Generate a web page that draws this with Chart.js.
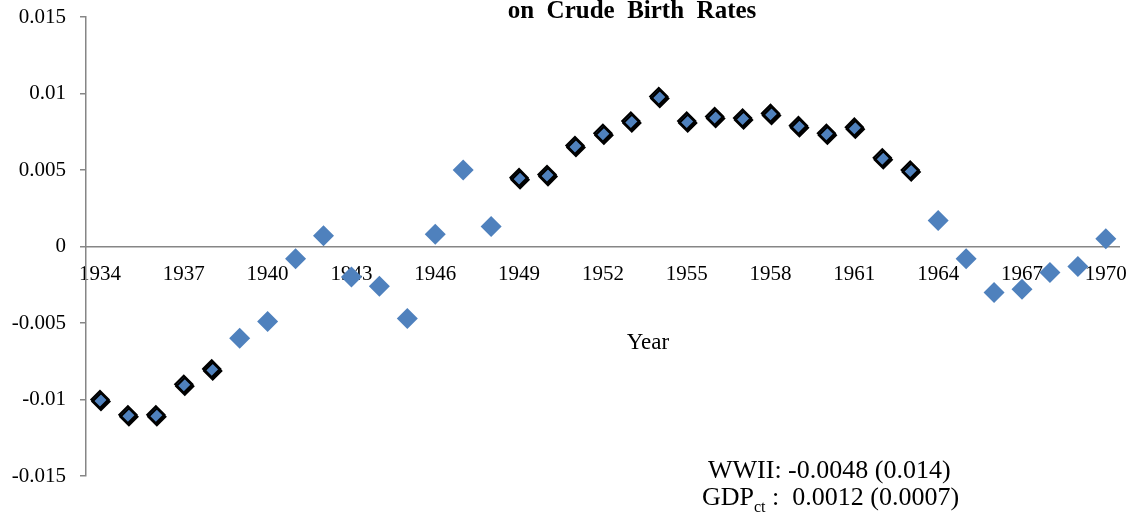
<!DOCTYPE html>
<html>
<head>
<meta charset="utf-8">
<script src="https://cdn.jsdelivr.net/npm/chart.js@4.4.1/dist/chart.umd.min.js"></script>
<style>
  html, body { margin: 0; padding: 0; background: #fff; }
  #wrap { width: 1142px; height: 514px; position: relative; }
</style>
</head>
<body>
<div id="wrap"><canvas id="c" width="1142" height="514"></canvas></div>
<script>
// ---- data ----
const years = ['1934','1935','1936','1937','1938','1939','1940','1941','1942','1943',
  '1944','1945','1946','1947','1948','1949','1950','1951','1952','1953',
  '1954','1955','1956','1957','1958','1959','1960','1961','1962','1963',
  '1964','1965','1966','1967','1968','1969','1970'];
const effects = [-0.0100,-0.0110,-0.0110,-0.0090,-0.0080,-0.0060,-0.0049,-0.0008,0.0007,-0.0020,
  -0.0026,-0.0047,0.0008,0.0050,0.0013,0.0045,0.0047,0.0066,0.0074,0.0082,
  0.0098,0.0082,0.0085,0.0084,0.0087,0.0079,0.0074,0.0078,0.0058,0.0050,
  0.0017,-0.0008,-0.0030,-0.0028,-0.0017,-0.0013,0.0005];
const significant = [1,1,1,1,1,0,0,0,0,0,
  0,0,0,0,0,1,1,1,1,1,
  1,1,1,1,1,1,1,1,1,1,
  0,0,0,0,0,0,0];
const xTickLabels = ['1934','1937','1940','1943','1946','1949','1952','1955','1958','1961','1964','1967','1970'];
const yTickLabels = ['-0.015','-0.01','-0.005','0','0.005','0.01','0.015'];
const titleText = 'on  Crude  Birth  Rates';
const xAxisTitle = 'Year';
const noteLine1 = 'WWII: -0.0048 (0.014)';
const noteLine2 = ['GDP', 'ct', ' :  0.0012 (0.0007)'];

const sigData = effects.map((v, i) => significant[i] ? v : null);
const insigData = effects.map((v, i) => significant[i] ? null : v);

const BLUE = '#4F81BD';
const AXIS = '#868686';
const SERIF = '"Liberation Serif", "Times New Roman", serif';

const shadowPlugin = {
  id: 'shadow',
  beforeDatasetDraw(chart, args) {
    if (args.index === 0) {
      const ctx = chart.ctx;
      ctx.save();
      ctx.shadowColor = '#000';
      ctx.shadowOffsetX = 1;
      ctx.shadowOffsetY = 2;
      ctx.shadowBlur = 0;
    }
  },
  afterDatasetDraw(chart, args) {
    if (args.index === 0) chart.ctx.restore();
  }
};

const textPlugin = {
  id: 'texts',
  afterDraw(chart) {
    const ctx = chart.ctx;
    ctx.save();
    ctx.fillStyle = '#000';
    ctx.textBaseline = 'alphabetic';
    // title (second line visible)
    ctx.font = 'bold 25px ' + SERIF;
    ctx.textAlign = 'center';
    ctx.fillText(titleText, 632, 18);
    // axis title
    ctx.font = '23px ' + SERIF;
    ctx.fillText(xAxisTitle, 648, 349);
    // notes
    ctx.font = '26px ' + SERIF;
    ctx.textAlign = 'left';
    ctx.fillText(noteLine1, 708, 478);
    let x = 702;
    ctx.fillText(noteLine2[0], x, 505);
    x += ctx.measureText(noteLine2[0]).width;
    ctx.font = '16px ' + SERIF;
    ctx.fillText(noteLine2[1], x, 512);
    x += ctx.measureText(noteLine2[1]).width;
    ctx.font = '26px ' + SERIF;
    ctx.fillText(noteLine2[2], x, 505);
    ctx.restore();
  }
};

new Chart(document.getElementById('c'), {
  type: 'line',
  data: {
    labels: years,
    datasets: [
      {
        label: 'significant',
        data: sigData,
        showLine: false,
        pointStyle: 'rectRot',
        pointRadius: 8.5,
        pointHoverRadius: 8.5,
        pointBackgroundColor: BLUE,
        pointBorderColor: '#000',
        pointBorderWidth: 2.2
      },
      {
        label: 'insignificant',
        data: insigData,
        showLine: false,
        pointStyle: 'rectRot',
        pointRadius: 10.5,
        pointHoverRadius: 10.5,
        pointBackgroundColor: BLUE,
        pointBorderColor: BLUE,
        pointBorderWidth: 0
      }
    ]
  },
  options: {
    responsive: false,
    animation: false,
    events: [],
    layout: { padding: { left: 0, top: 17, right: 15, bottom: 38 } },
    plugins: { legend: { display: false }, tooltip: { enabled: false }, title: { display: false } },
    scales: {
      x: {
        type: 'category',
        offset: true,
        position: { y: 0 },
        afterFit(scale) { scale.height = 0; scale.paddingTop = 0; scale.paddingBottom = 0; },
        grid: { display: true, drawOnChartArea: false, drawTicks: false },
        border: { display: true, color: AXIS, width: 1.5 },
        ticks: {
          autoSkip: false,
          maxRotation: 0,
          minRotation: 0,
          padding: 15,
          color: '#000',
          font: { family: SERIF, size: 21 },
          callback(value, index) {
            const lab = years[index];
            return xTickLabels.includes(lab) ? lab : '';
          }
        }
      },
      y: {
        type: 'linear',
        min: -0.015,
        max: 0.015,
        afterFit(scale) { scale.width = 86; scale.paddingTop = 0; scale.paddingBottom = 0; },
        grid: { display: true, drawOnChartArea: false, drawTicks: true, tickLength: 6, color: AXIS, lineWidth: 1.5 },
        border: { display: true, color: AXIS, width: 1.5 },
        ticks: {
          stepSize: 0.005,
          padding: 14,
          color: '#000',
          font: { family: SERIF, size: 21 },
          callback(value) {
            const idx = Math.round((value + 0.015) / 0.005);
            return yTickLabels[idx];
          }
        }
      }
    }
  },
  plugins: [shadowPlugin, textPlugin]
});
</script>
</body>
</html>
